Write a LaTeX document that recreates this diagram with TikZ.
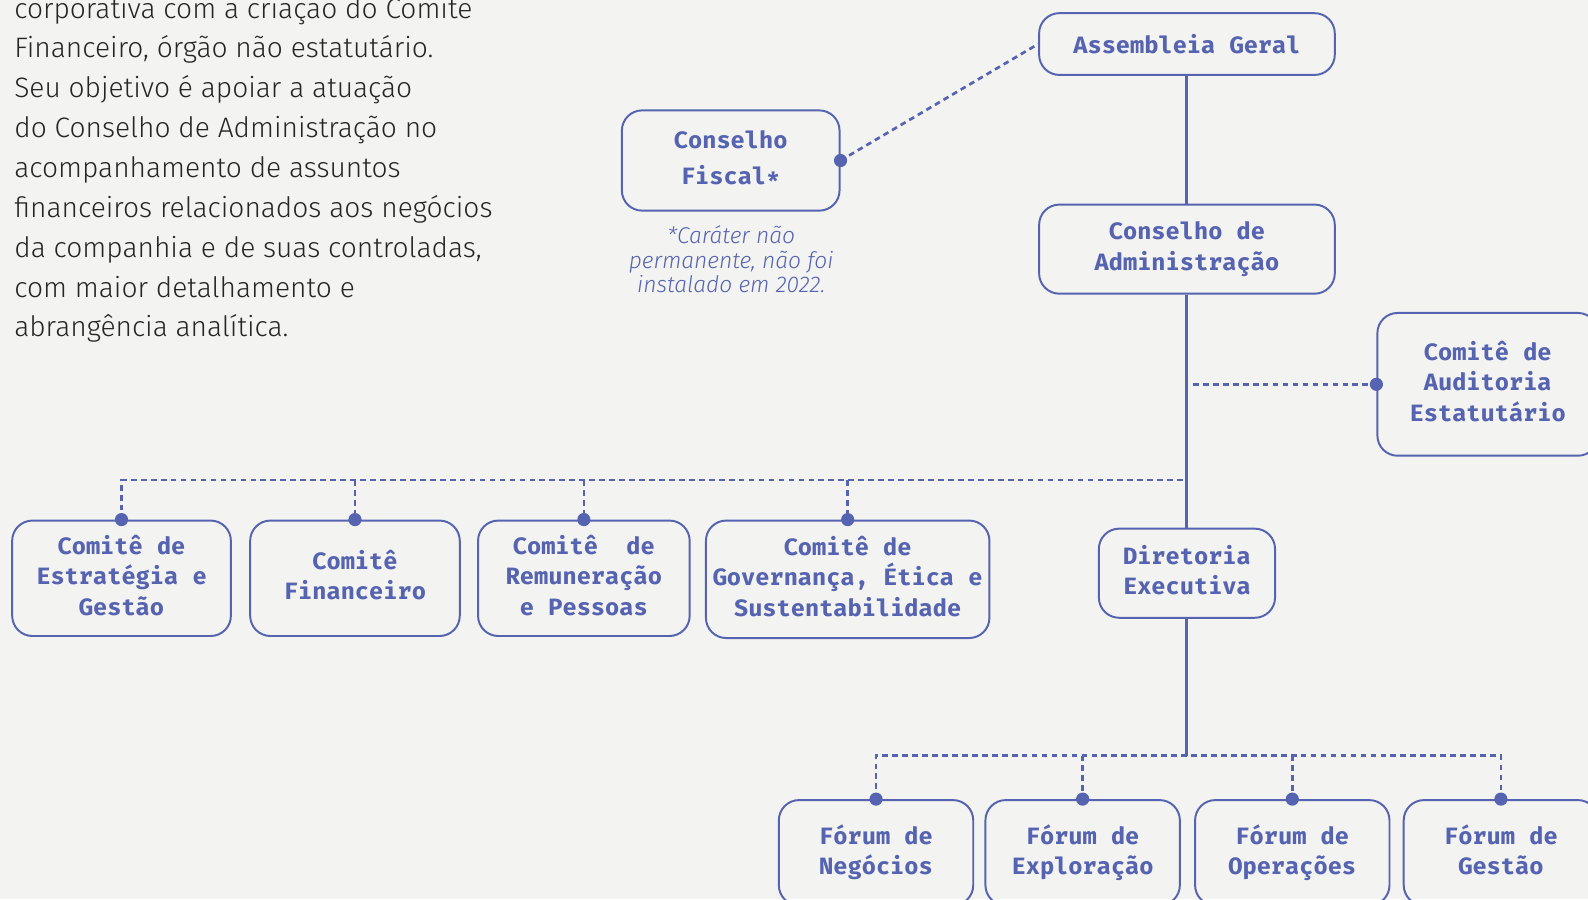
\documentclass[tikz,border=0pt]{standalone}
\usepackage{fontspec}
\usepackage{tikz}
\usetikzlibrary{arrows.meta,positioning}
\usepackage{xcolor}

\IfFontExistsTF{Fira Sans Light}{\newfontfamily\bodyfont{Fira Sans Light}}{\newfontfamily\bodyfont{Fira Sans}}
\IfFontExistsTF{Fira Mono Bold}{\newfontfamily\boxfont{Fira Mono Bold}}{\newfontfamily\boxfont{DejaVu Sans Mono Bold}}
\IfFontExistsTF{Fira Sans Light Italic}{\newfontfamily\notefont{Fira Sans Light Italic}}{\newfontfamily\notefont{Fira Sans Italic}}

\definecolor{orgblue}{HTML}{5663B0}
\definecolor{paper}{HTML}{F3F3F1}
\definecolor{ink}{HTML}{262626}

\begin{document}
\begin{tikzpicture}[x=0.02cm, y=-0.02cm]
                \tikzstyle{box} = [shape=rectangle, rounded corners=0.4cm, draw=orgblue, line width=1.1pt, text=orgblue, font=\boxfont\fontsize{13.3}{17}\selectfont, align=center, inner sep=2pt, execute at begin node={\rule{0pt}{13.6pt}}, execute at end node={\vphantom{gç}}];
                \tikzstyle{note} = [text=orgblue, font=\notefont\fontsize{12.8}{13.7}\selectfont, align=center, inner sep=0pt];
                \tikzstyle{trunk} = [draw=orgblue, line width=1.7pt];
                \tikzstyle{link} = [draw=orgblue, line width=1.5pt, dash pattern=on 3.2pt off 2.4pt];

                \fill[paper] (0,0) rectangle (1568,888);
                \useasboundingbox (0,0) rectangle (1568,888);

                % texto lateral
                \node[anchor=north west, inner sep=0pt, align=left, text=ink, font=\bodyfont\fontsize{15.8}{22.4}\selectfont](TX) at (13.8,-4.2)
                    {corporativa com a criação do Comitê\\
                     Financeiro, órgão não estatutário.\\
                     Seu objetivo é apoiar a atuação\\
                     do Conselho de Administração no\\
                     acompanhamento de assuntos\\
                     financeiros relacionados aos negócios\\
                     da companhia e de suas controladas,\\
                     com maior detalhamento e\\
                     abrangência analítica.};

                % topo
                \node[box, minimum width=5.84cm, minimum height=1.22cm](AG) at (1172,43.5) {Assembleia Geral};
                \node[box, minimum width=4.3cm, minimum height=1.98cm](CF) at (721.5,158.5) {Conselho\\[2.8pt]Fiscal*};
                \node[note](NT) at (722,256) {*Caráter não\\permanente, não foi\\instalado em 2022.};
                \node[box, minimum width=5.84cm, minimum height=1.76cm](CA) at (1172,246) {Conselho de\\Administração};
                \node[box, minimum width=4.36cm, minimum height=2.82cm](AU) at (1469,379.5) {Comitê de\\Auditoria\\Estatutário};
                \node[box, minimum width=3.48cm, minimum height=1.76cm](DE) at (1172,566) {Diretoria\\Executiva};

                % comites
                \node[box, minimum width=4.32cm, minimum height=2.28cm](CEG) at (120,571) {Comitê de\\Estratégia e\\Gestão};
                \node[box, minimum width=4.14cm, minimum height=2.28cm](CFI) at (350.5,571) {Comitê\\Financeiro};
                \node[box, minimum width=4.18cm, minimum height=2.28cm](CRP) at (576.5,571) {Comitê~ de\\Remuneração\\e Pessoas};
                \node[box, minimum width=5.6cm, minimum height=2.32cm](CGE) at (837,572) {Comitê de\\Governança, Ética e\\Sustentabilidade};

                % foruns
                \node[box, minimum width=3.84cm, minimum height=2.08cm](FNE) at (865,842) {Fórum de\\Negócios};
                \node[box, minimum width=3.84cm, minimum height=2.08cm](FEX) at (1069,842) {Fórum de\\Exploração};
                \node[box, minimum width=3.84cm, minimum height=2.08cm](FOP) at (1276,842) {Fórum de\\Operações};
                \node[box, minimum width=3.84cm, minimum height=2.08cm](FGE) at (1482,842) {Fórum de\\Gestão};

                \coordinate (AJ) at (1178,379.5);
                \coordinate (CJ) at (1168,474);
                \coordinate (FJ) at (1172,746);

                \draw[trunk]
                    (AG) edge (CA)
                    (CA) edge (DE)
                    (DE) edge (FJ)
                ;
                \draw[link] (CF.east) -- (AG.west);
                \draw[link] (AJ) -- (AU.west);
                \draw[link] (CJ) -| (CEG.north);
                \foreach \n in {CFI,CRP,CGE}
                    \draw[link] (\n.north |- CJ) -- (\n.north);
                \draw[link] (FNE.north) -- (FNE.north |- FJ) -- (FGE.north |- FJ) -- (FGE.north);
                \foreach \n in {FEX,FOP}
                    \draw[link] (\n.north |- FJ) -- (\n.north);

                \foreach \n in {CF.east,AU.west,CEG.north,CFI.north,CRP.north,CGE.north,FNE.north,FEX.north,FOP.north,FGE.north}
                    \fill[orgblue] (\n) circle (1.3mm);
            \end{tikzpicture}
\end{document}
